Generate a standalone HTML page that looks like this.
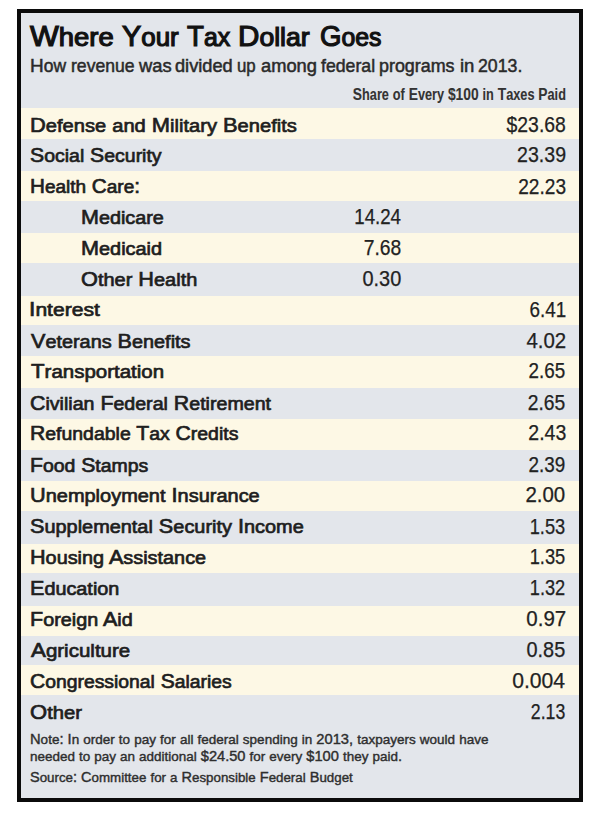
<!DOCTYPE html><html><head><meta charset="utf-8"><style>
html,body{margin:0;padding:0;background:#fff;width:607px;height:819px;overflow:hidden}
.box{position:absolute;left:17px;top:9px;width:558px;height:785px;border:4px solid #0b0b0b;background:#e3e6eb}
.r{position:absolute;left:21px;width:558px;background:#fdf8e5}
.t{position:absolute;white-space:nowrap;line-height:1;font-family:"Liberation Sans",sans-serif}
.l{transform-origin:0 0}.g{transform-origin:100% 0}
</style></head><body>
<div class="box"></div>
<div class="r" style="top:108px;height:31px"></div>
<div class="r" style="top:171px;height:30px"></div>
<div class="r" style="top:233px;height:30px"></div>
<div class="r" style="top:296px;height:29px"></div>
<div class="r" style="top:356px;height:32px"></div>
<div class="r" style="top:419px;height:31px"></div>
<div class="r" style="top:481px;height:30px"></div>
<div class="r" style="top:544px;height:29px"></div>
<div class="r" style="top:606px;height:30px"></div>
<div class="r" style="top:665px;height:30px"></div>
<div id="title0" class="t l" style="left:30.20px;top:22.18px;font-size:28.80px;font-weight:400;color:#111111;transform:scaleX(1.0587);-webkit-text-stroke:1.2px #111;">W<span style="font-size:0.9em">here</span></div>
<div id="title1" class="t l" style="left:122.40px;top:22.18px;font-size:28.80px;font-weight:400;color:#111111;transform:scaleX(1.0006);-webkit-text-stroke:1.2px #111;">Y<span style="font-size:0.9em">our</span></div>
<div id="title2" class="t l" style="left:187.00px;top:22.18px;font-size:28.80px;font-weight:400;color:#111111;transform:scaleX(0.9602);-webkit-text-stroke:1.2px #111;">T<span style="font-size:0.9em">ax</span></div>
<div id="title3" class="t l" style="left:238.20px;top:22.18px;font-size:28.80px;font-weight:400;color:#111111;transform:scaleX(1.0281);-webkit-text-stroke:1.2px #111;">D<span style="font-size:0.9em">ollar</span></div>
<div id="title4" class="t l" style="left:320.00px;top:22.18px;font-size:28.80px;font-weight:400;color:#111111;transform:scaleX(0.9576);-webkit-text-stroke:1.2px #111;">G<span style="font-size:0.9em">oes</span></div>
<div id="sub0" class="t l" style="left:30.20px;top:55.78px;font-size:19.20px;font-weight:400;color:#2a2a2a;transform:scaleX(0.9875);-webkit-text-stroke:0.5px #2a2a2a;">H<span style="font-size:0.92em">ow</span></div>
<div id="sub1" class="t l" style="left:71.40px;top:55.78px;font-size:19.20px;font-weight:400;color:#2a2a2a;transform:scaleX(0.9960);-webkit-text-stroke:0.5px #2a2a2a;"><span style="font-size:0.92em">revenue</span></div>
<div id="sub2" class="t l" style="left:139.40px;top:55.78px;font-size:19.20px;font-weight:400;color:#2a2a2a;transform:scaleX(1.0367);-webkit-text-stroke:0.5px #2a2a2a;"><span style="font-size:0.92em">was</span></div>
<div id="sub3" class="t l" style="left:175.20px;top:55.78px;font-size:19.20px;font-weight:400;color:#2a2a2a;transform:scaleX(1.0310);-webkit-text-stroke:0.5px #2a2a2a;"><span style="font-size:0.92em">divided</span></div>
<div id="sub4" class="t l" style="left:237.00px;top:55.78px;font-size:19.20px;font-weight:400;color:#2a2a2a;transform:scaleX(0.9529);-webkit-text-stroke:0.5px #2a2a2a;"><span style="font-size:0.92em">up</span></div>
<div id="sub5" class="t l" style="left:261.00px;top:55.78px;font-size:19.20px;font-weight:400;color:#2a2a2a;transform:scaleX(1.0367);-webkit-text-stroke:0.5px #2a2a2a;"><span style="font-size:0.92em">among</span></div>
<div id="sub6" class="t l" style="left:321.40px;top:55.78px;font-size:19.20px;font-weight:400;color:#2a2a2a;transform:scaleX(1.0013);-webkit-text-stroke:0.5px #2a2a2a;"><span style="font-size:0.92em">federal</span></div>
<div id="sub7" class="t l" style="left:379.20px;top:55.78px;font-size:19.20px;font-weight:400;color:#2a2a2a;transform:scaleX(1.0129);-webkit-text-stroke:0.5px #2a2a2a;"><span style="font-size:0.92em">programs</span></div>
<div id="sub8" class="t l" style="left:459.80px;top:55.78px;font-size:19.20px;font-weight:400;color:#2a2a2a;transform:scaleX(1.0494);-webkit-text-stroke:0.5px #2a2a2a;"><span style="font-size:0.92em">in</span></div>
<div id="sub9" class="t l" style="left:478.20px;top:55.78px;font-size:19.20px;font-weight:400;color:#2a2a2a;transform:scaleX(0.9232);-webkit-text-stroke:0.5px #2a2a2a;">2013.</div>
<div id="hdr" class="t g" style="right:40.80px;top:86.31px;font-size:17.40px;font-weight:700;color:#333333;transform:scaleX(0.7954);-webkit-text-stroke:0.1px #2e2e2e;">S<span style="font-size:0.92em">hare</span> <span style="font-size:0.92em">of</span> E<span style="font-size:0.92em">very</span> $100 <span style="font-size:0.92em">in</span> T<span style="font-size:0.92em">axes</span> P<span style="font-size:0.92em">aid</span></div>
<div id="l0" class="t l" style="left:30.40px;top:114.82px;font-size:20.40px;font-weight:400;color:#1e1e1e;transform:scaleX(1.0719);-webkit-text-stroke:0.7px #1e1e1e;">D<span style="font-size:0.92em">efense</span> <span style="font-size:0.92em">and</span> M<span style="font-size:0.92em">ilitary</span> B<span style="font-size:0.92em">enefits</span></div>
<div id="v0" class="t g" style="right:41.20px;top:113.98px;font-size:21.20px;font-weight:400;color:#222222;transform:scaleX(0.9138);-webkit-text-stroke:0.25px #222;">$23.68</div>
<div id="l1" class="t l" style="left:30.40px;top:145.25px;font-size:20.40px;font-weight:400;color:#1e1e1e;transform:scaleX(1.0390);-webkit-text-stroke:0.7px #1e1e1e;">S<span style="font-size:0.92em">ocial</span> S<span style="font-size:0.92em">ecurity</span></div>
<div id="v1" class="t g" style="right:41.20px;top:144.41px;font-size:21.20px;font-weight:400;color:#222222;transform:scaleX(0.9227);-webkit-text-stroke:0.25px #222;">23.39</div>
<div id="l2" class="t l" style="left:30.40px;top:175.68px;font-size:20.40px;font-weight:400;color:#1e1e1e;transform:scaleX(1.0124);-webkit-text-stroke:0.7px #1e1e1e;">H<span style="font-size:0.92em">ealth</span> C<span style="font-size:0.92em">are</span>:</div>
<div id="v2" class="t g" style="right:41.20px;top:175.84px;font-size:21.20px;font-weight:400;color:#222222;transform:scaleX(0.9009);-webkit-text-stroke:0.25px #222;">22.23</div>
<div id="l3" class="t l" style="left:81.00px;top:207.11px;font-size:20.40px;font-weight:400;color:#1e1e1e;transform:scaleX(1.0557);-webkit-text-stroke:0.7px #1e1e1e;">M<span style="font-size:0.92em">edicare</span></div>
<div id="v3" class="t g" style="right:206.00px;top:206.27px;font-size:21.20px;font-weight:400;color:#222222;transform:scaleX(0.8824);-webkit-text-stroke:0.25px #222;">14.24</div>
<div id="l4" class="t l" style="left:81.00px;top:237.54px;font-size:20.40px;font-weight:400;color:#1e1e1e;transform:scaleX(1.0605);-webkit-text-stroke:0.7px #1e1e1e;">M<span style="font-size:0.92em">edicaid</span></div>
<div id="v4" class="t g" style="right:206.00px;top:236.70px;font-size:21.20px;font-weight:400;color:#222222;transform:scaleX(0.9101);-webkit-text-stroke:0.25px #222;">7.68</div>
<div id="l5" class="t l" style="left:81.00px;top:268.97px;font-size:20.40px;font-weight:400;color:#1e1e1e;transform:scaleX(1.0642);-webkit-text-stroke:0.7px #1e1e1e;">O<span style="font-size:0.92em">ther</span> H<span style="font-size:0.92em">ealth</span></div>
<div id="v5" class="t g" style="right:206.00px;top:268.13px;font-size:21.20px;font-weight:400;color:#222222;transform:scaleX(0.9403);-webkit-text-stroke:0.25px #222;">0.30</div>
<div id="l6" class="t l" style="left:29.40px;top:299.40px;font-size:20.40px;font-weight:400;color:#1e1e1e;transform:scaleX(1.1240);-webkit-text-stroke:0.7px #1e1e1e;">I<span style="font-size:0.92em">nterest</span></div>
<div id="v6" class="t g" style="right:41.20px;top:298.56px;font-size:21.20px;font-weight:400;color:#222222;transform:scaleX(0.8884);-webkit-text-stroke:0.25px #222;">6.41</div>
<div id="l7" class="t l" style="left:31.40px;top:330.83px;font-size:20.40px;font-weight:400;color:#1e1e1e;transform:scaleX(1.0585);-webkit-text-stroke:0.7px #1e1e1e;">V<span style="font-size:0.92em">eterans</span> B<span style="font-size:0.92em">enefits</span></div>
<div id="v7" class="t g" style="right:41.20px;top:329.99px;font-size:21.20px;font-weight:400;color:#222222;transform:scaleX(0.9646);-webkit-text-stroke:0.25px #222;">4.02</div>
<div id="l8" class="t l" style="left:31.40px;top:361.26px;font-size:20.40px;font-weight:400;color:#1e1e1e;transform:scaleX(1.0919);-webkit-text-stroke:0.7px #1e1e1e;">T<span style="font-size:0.92em">ransportation</span></div>
<div id="v8" class="t g" style="right:42.20px;top:360.42px;font-size:21.20px;font-weight:400;color:#222222;transform:scaleX(0.8891);-webkit-text-stroke:0.25px #222;">2.65</div>
<div id="l9" class="t l" style="left:30.40px;top:392.69px;font-size:20.40px;font-weight:400;color:#1e1e1e;transform:scaleX(1.0457);-webkit-text-stroke:0.7px #1e1e1e;">C<span style="font-size:0.92em">ivilian</span> F<span style="font-size:0.92em">ederal</span> R<span style="font-size:0.92em">etirement</span></div>
<div id="v9" class="t g" style="right:42.20px;top:391.85px;font-size:21.20px;font-weight:400;color:#222222;transform:scaleX(0.9102);-webkit-text-stroke:0.25px #222;">2.65</div>
<div id="l10" class="t l" style="left:30.40px;top:423.12px;font-size:20.40px;font-weight:400;color:#1e1e1e;transform:scaleX(1.0370);-webkit-text-stroke:0.7px #1e1e1e;">R<span style="font-size:0.92em">efundable</span> T<span style="font-size:0.92em">ax</span> C<span style="font-size:0.92em">redits</span></div>
<div id="v10" class="t g" style="right:41.20px;top:422.28px;font-size:21.20px;font-weight:400;color:#222222;transform:scaleX(0.9195);-webkit-text-stroke:0.25px #222;">2.43</div>
<div id="l11" class="t l" style="left:30.40px;top:454.55px;font-size:20.40px;font-weight:400;color:#1e1e1e;transform:scaleX(1.0371);-webkit-text-stroke:0.7px #1e1e1e;">F<span style="font-size:0.92em">ood</span> S<span style="font-size:0.92em">tamps</span></div>
<div id="v11" class="t g" style="right:42.20px;top:453.71px;font-size:21.20px;font-weight:400;color:#222222;transform:scaleX(0.8905);-webkit-text-stroke:0.25px #222;">2.39</div>
<div id="l12" class="t l" style="left:30.40px;top:484.98px;font-size:20.40px;font-weight:400;color:#1e1e1e;transform:scaleX(1.0646);-webkit-text-stroke:0.7px #1e1e1e;">U<span style="font-size:0.92em">nemployment</span> I<span style="font-size:0.92em">nsurance</span></div>
<div id="v12" class="t g" style="right:42.20px;top:484.14px;font-size:21.20px;font-weight:400;color:#222222;transform:scaleX(0.9664);-webkit-text-stroke:0.25px #222;">2.00</div>
<div id="l13" class="t l" style="left:30.40px;top:516.41px;font-size:20.40px;font-weight:400;color:#1e1e1e;transform:scaleX(1.0613);-webkit-text-stroke:0.7px #1e1e1e;">S<span style="font-size:0.92em">upplemental</span> S<span style="font-size:0.92em">ecurity</span> I<span style="font-size:0.92em">ncome</span></div>
<div id="v13" class="t g" style="right:42.20px;top:515.57px;font-size:21.20px;font-weight:400;color:#222222;transform:scaleX(0.8616);-webkit-text-stroke:0.25px #222;">1.53</div>
<div id="l14" class="t l" style="left:30.40px;top:546.84px;font-size:20.40px;font-weight:400;color:#1e1e1e;transform:scaleX(1.0590);-webkit-text-stroke:0.7px #1e1e1e;">H<span style="font-size:0.92em">ousing</span> A<span style="font-size:0.92em">ssistance</span></div>
<div id="v14" class="t g" style="right:42.20px;top:546.00px;font-size:21.20px;font-weight:400;color:#222222;transform:scaleX(0.8623);-webkit-text-stroke:0.25px #222;">1.35</div>
<div id="l15" class="t l" style="left:30.40px;top:578.27px;font-size:20.40px;font-weight:400;color:#1e1e1e;transform:scaleX(1.0572);-webkit-text-stroke:0.7px #1e1e1e;">E<span style="font-size:0.92em">ducation</span></div>
<div id="v15" class="t g" style="right:42.20px;top:577.43px;font-size:21.20px;font-weight:400;color:#222222;transform:scaleX(0.8608);-webkit-text-stroke:0.25px #222;">1.32</div>
<div id="l16" class="t l" style="left:30.40px;top:608.70px;font-size:20.40px;font-weight:400;color:#1e1e1e;transform:scaleX(1.0553);-webkit-text-stroke:0.7px #1e1e1e;">F<span style="font-size:0.92em">oreign</span> A<span style="font-size:0.92em">id</span></div>
<div id="v16" class="t g" style="right:41.20px;top:607.86px;font-size:21.20px;font-weight:400;color:#222222;transform:scaleX(0.9677);-webkit-text-stroke:0.25px #222;">0.97</div>
<div id="l17" class="t l" style="left:31.40px;top:640.13px;font-size:20.40px;font-weight:400;color:#1e1e1e;transform:scaleX(1.0937);-webkit-text-stroke:0.7px #1e1e1e;">A<span style="font-size:0.92em">griculture</span></div>
<div id="v17" class="t g" style="right:42.20px;top:639.29px;font-size:21.20px;font-weight:400;color:#222222;transform:scaleX(0.9396);-webkit-text-stroke:0.25px #222;">0.85</div>
<div id="l18" class="t l" style="left:30.40px;top:670.56px;font-size:20.40px;font-weight:400;color:#1e1e1e;transform:scaleX(1.0309);-webkit-text-stroke:0.7px #1e1e1e;">C<span style="font-size:0.92em">ongressional</span> S<span style="font-size:0.92em">alaries</span></div>
<div id="v18" class="t g" style="right:42.20px;top:669.72px;font-size:21.20px;font-weight:400;color:#222222;transform:scaleX(0.9976);-webkit-text-stroke:0.25px #222;">0.004</div>
<div id="l19" class="t l" style="left:30.40px;top:701.99px;font-size:20.40px;font-weight:400;color:#1e1e1e;transform:scaleX(1.0791);-webkit-text-stroke:0.7px #1e1e1e;">O<span style="font-size:0.92em">ther</span></div>
<div id="v19" class="t g" style="right:42.20px;top:701.15px;font-size:21.20px;font-weight:400;color:#222222;transform:scaleX(0.8347);-webkit-text-stroke:0.25px #222;">2.13</div>
<div id="n1" class="t l" style="left:30.30px;top:731.97px;font-size:14.50px;font-weight:400;color:#2e2e2e;transform:scaleX(1.0128);-webkit-text-stroke:0.4px #2e2e2e;">N<span style="font-size:0.92em">ote</span>: I<span style="font-size:0.92em">n</span> <span style="font-size:0.92em">order</span> <span style="font-size:0.92em">to</span> <span style="font-size:0.92em">pay</span> <span style="font-size:0.92em">for</span> <span style="font-size:0.92em">all</span> <span style="font-size:0.92em">federal</span> <span style="font-size:0.92em">spending</span> <span style="font-size:0.92em">in</span> 2013, <span style="font-size:0.92em">taxpayers</span> <span style="font-size:0.92em">would</span> <span style="font-size:0.92em">have</span></div>
<div id="n2" class="t l" style="left:30.30px;top:748.78px;font-size:14.50px;font-weight:400;color:#2e2e2e;transform:scaleX(1.0094);-webkit-text-stroke:0.4px #2e2e2e;"><span style="font-size:0.92em">needed</span> <span style="font-size:0.92em">to</span> <span style="font-size:0.92em">pay</span> <span style="font-size:0.92em">an</span> <span style="font-size:0.92em">additional</span> $24.50 <span style="font-size:0.92em">for</span> <span style="font-size:0.92em">every</span> $100 <span style="font-size:0.92em">they</span> <span style="font-size:0.92em">paid</span>.</div>
<div id="n3" class="t l" style="left:30.30px;top:770.47px;font-size:14.50px;font-weight:400;color:#2e2e2e;transform:scaleX(1.0004);-webkit-text-stroke:0.4px #2e2e2e;">S<span style="font-size:0.92em">ource</span>: C<span style="font-size:0.92em">ommittee</span> <span style="font-size:0.92em">for</span> <span style="font-size:0.92em">a</span> R<span style="font-size:0.92em">esponsible</span> F<span style="font-size:0.92em">ederal</span> B<span style="font-size:0.92em">udget</span></div>
</body></html>
